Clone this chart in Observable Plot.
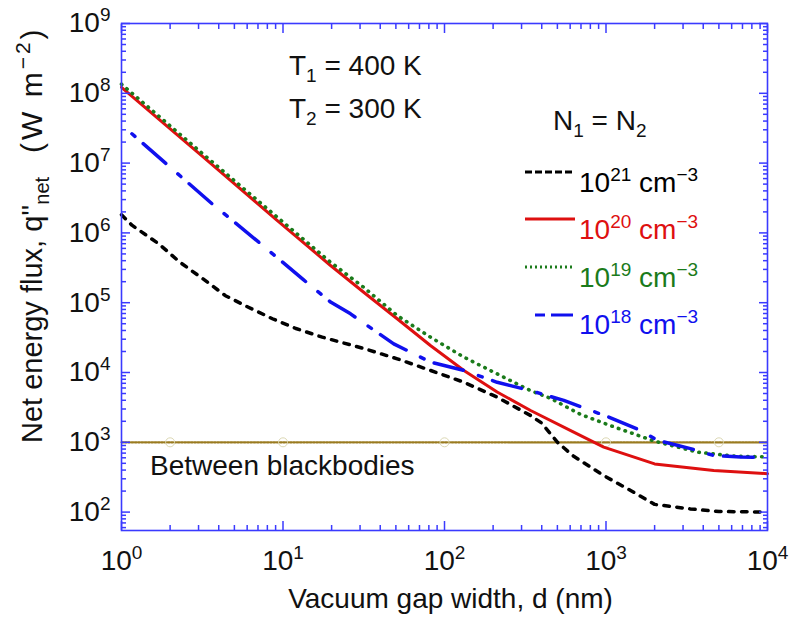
<!DOCTYPE html>
<html><head><meta charset="utf-8">
<script src="https://cdn.jsdelivr.net/npm/d3@7"></script>
<script src="https://cdn.jsdelivr.net/npm/@observablehq/plot@0.6"></script>
<style>
body{margin:0;background:#fff;}
svg{font-family:"Liberation Sans", Arial, Helvetica, sans-serif;}
</style>
</head><body><div id="chart"></div>
<script>
// ---- data ----
// N1 = N2 = 1e21 cm^-3 (black dashed)
const dN21 = [1, 1.16, 1.7, 2.3, 3.2, 4.4, 6.1, 8.6, 12, 17.5, 32, 51, 82, 132, 212, 341, 398, 501, 631, 968, 1420, 2000, 3330, 5000, 10000];
const qN21 = [1.82e6, 1.29e6, 6.98e5, 3.8e5, 2.19e5, 1.26e5, 8.61e4, 5.89e4, 4.27e4, 3.21e4, 2.19e4, 1.57e4, 1.07e4, 7244, 4426, 2421, 1900, 1000, 630, 334, 204, 129, 111, 102, 100];
// 1e20 (red solid)
const dN20 = [1, 3.16, 9.0, 19.7, 31.6, 50.9, 81.8, 131.8, 211.8, 341.2, 631, 968, 2000, 4645, 10000];
const qN20 = [1.22e8, 1.26e7, 1.58e6, 3.41e5, 1.41e5, 5.89e4, 2.44e4, 1.07e4, 5248, 2858, 1396, 851, 490, 394, 355];
// 1e19 (green dotted)
const dN19 = [1, 3.16, 9.0, 19.7, 31.6, 50.9, 81.8, 131.8, 211.8, 341.2, 452.9, 695, 1122, 1977, 3673, 6310, 10000];
const qN19 = [1.35e8, 1.38e7, 1.76e6, 3.8e5, 1.66e5, 6.56e4, 3.21e4, 1.66e4, 9550, 5495, 4266, 2512, 1660, 1047, 724, 631, 617];
// 1e18 (blue dash-dot)
const dN18 = [1.16, 3.64, 7.08, 13.2, 19.7, 26.2, 48.5, 81.8, 131.8, 211.8, 341.2, 548, 1016, 1637, 2075, 3334, 4645, 6808, 10000];
const qN18 = [2.63e7, 2.61e6, 7.36e5, 2.19e5, 1.02e5, 6.92e4, 2.57e4, 1.41e4, 1.07e4, 7244, 5495, 3981, 2344, 1479, 1072, 813, 646, 617, 603];
// between blackbodies
const dBB = [1, 10000];
const qBB = [1000, 1000];
const dBBmarks = [2, 10, 100, 1000, 5000];

const xDecades = [1, 10, 100, 1000, 10000];
const yDecades = [1e2, 1e3, 1e4, 1e5, 1e6, 1e7, 1e8, 1e9];
const xTitle = "Vacuum gap width, d (nm)";
const yTitleA = "Net energy flux, q''_{net}";
const yTitleB = "(W m^{\u22122})";
const tempLabels = ["T_{1} = 400 K", "T_{2} = 300 K"];
const legendTitle = "N_{1} = N_{2}";
const legendLabels = ["10^{21} cm^{\u22123}", "10^{20} cm^{\u22123}", "10^{19} cm^{\u22123}", "10^{18} cm^{\u22123}"];
const bbLabel = "Between blackbodies";

// ---- styles ----
const frameBlue = "#3a3aff";
const cBlack = "#000000", cRed = "#de1010", cGreen = "#1b7b1b", cBlue = "#1010ee", cBB = "#9a7b20";

const rows = (d, q) => d.map((v, i) => ({d: v, q: q[i]}));
const minorX = xDecades.slice(0, -1).flatMap(p => d3.range(2, 10).map(k => k * p));
const minorY = [10, 1e2, 1e3, 1e4, 1e5, 1e6, 1e7, 1e8].flatMap(p => d3.range(2, 10).map(k => k * p)).filter(v => v > 54.5 && v < 1e9);
const expo = v => `10^{${Math.round(Math.log10(v))}}`;

const tickAxes = (ticks, len) => [
  Plot.axisX({ticks, anchor: "bottom", tickSize: len, dy: -len, stroke: frameBlue, strokeWidth: 1.5, tickFormat: () => "", label: null}),
  Plot.axisX({ticks, anchor: "top", tickSize: len, dy: len, stroke: frameBlue, strokeWidth: 1.5, tickFormat: () => "", label: null})
];
const tickAxesY = (ticks, len) => [
  Plot.axisY({ticks, anchor: "left", tickSize: len, dx: len, stroke: frameBlue, strokeWidth: 1.5, tickFormat: () => "", label: null}),
  Plot.axisY({ticks, anchor: "right", tickSize: len, dx: -len, stroke: frameBlue, strokeWidth: 1.5, tickFormat: () => "", label: null})
];

const chart = Plot.plot({
  width: 790, height: 621,
  marginLeft: 121, marginRight: 23, marginTop: 23, marginBottom: 91,
  x: {type: "log", domain: [1, 1e4], axis: null},
  y: {type: "log", domain: [54.5, 1e9], axis: null},
  style: {background: "white", fontFamily: "Liberation Sans, Arial, sans-serif"},
  marks: [
    Plot.line(rows(dBB, qBB), {x: "d", y: "q", stroke: cBB, strokeWidth: 2.2, strokeDasharray: "2,1.3"}),
    Plot.dot(dBBmarks, {x: d => d, y: () => 1000, r: 4.5, stroke: "#dcd8b4", strokeWidth: 1, fill: "none"}),
    Plot.line(rows(dN21, qN21), {x: "d", y: "q", stroke: cBlack, strokeWidth: 3.5, strokeDasharray: "5.5,7.5", strokeLinecap: "round"}),
    Plot.line(rows(dN20, qN20), {x: "d", y: "q", stroke: cRed, strokeWidth: 3}),
    Plot.line(rows(dN19, qN19), {x: "d", y: "q", stroke: cGreen, strokeWidth: 3.6, strokeDasharray: "0.5,6.5", strokeLinecap: "round"}),
    Plot.line(rows(dN18, qN18), {x: "d", y: "q", stroke: cBlue, strokeWidth: 3.5, strokeDasharray: "4,11,30,16", strokeLinecap: "round"}),
    ...tickAxes(xDecades, 9), ...tickAxes(minorX, 5),
    ...tickAxesY(yDecades, 9), ...tickAxesY(minorY, 5),
    Plot.frame({stroke: frameBlue, strokeWidth: 1.6}),
    Plot.text(xDecades, {x: d => d, frameAnchor: "bottom", dy: 31, text: expo, fontSize: 28, textAnchor: "middle", lineAnchor: "middle", fill: "#111"}),
    Plot.text(yDecades, {y: d => d, frameAnchor: "left", dx: -11, text: expo, fontSize: 28, textAnchor: "end", lineAnchor: "middle", fill: "#111"}),
    Plot.text([xTitle], {frameAnchor: "bottom", dx: 6, dy: 69, text: d => d, fontSize: 28, lineAnchor: "middle", fill: "#111"})
  ]
});
document.getElementById("chart").appendChild(chart);

// ---- rich text (super/subscripts) ----
function rich(sel, str, small, raise, drop) {
  const parts = str.split(/([\^_]\{[^}]*\})/);
  let shift = 0;
  sel.text("");
  for (const p of parts) {
    if (!p) continue;
    const m = p.match(/^([\^_])\{(.*)\}$/);
    if (m) {
      const target = m[1] === "^" ? -raise : drop;
      sel.append("tspan").attr("dy", target - shift).attr("font-size", small).text(m[2]);
      shift = target;
    } else {
      sel.append("tspan").attr("dy", -shift).text(p);
      shift = 0;
    }
  }
}
const svg = d3.select(chart);
svg.selectAll("text").each(function () {
  const s = this.textContent;
  if (s.includes("^{") || s.includes("_{")) rich(d3.select(this), s, 19, 11, 7);
});

// ---- annotations & legend ----
const g = svg.append("g").attr("font-size", 28).attr("fill", "#111").attr("text-anchor", "start");
const addText = (x, y, str, fill) => {
  const t = g.append("text").attr("x", x).attr("y", y).attr("fill", fill || "#111").attr("text-anchor", "start").style("white-space", "pre");
  rich(t, str, 19, 11, 7);
  return t;
};
addText(289, 75, tempLabels[0]);
addText(289, 118, tempLabels[1]);
addText(553, 130, legendTitle);
addText(150, 475, bbLabel);

const legendColors = [cBlack, cRed, cGreen, cBlue];
const legendDash = ["7,3", null, "2,3", "10,6,22"];
const legendLineY = [172, 219, 267, 315];
const legendTextY = [192, 239, 287, 334];
const legendX0 = [525, 525, 525, 535];
legendLabels.forEach((lab, i) => {
  const ln = g.append("line").attr("x1", legendX0[i]).attr("x2", 575)
    .attr("y1", legendLineY[i]).attr("y2", legendLineY[i])
    .attr("stroke", legendColors[i]).attr("stroke-width", i === 1 ? 3 : 2.8);
  if (legendDash[i]) ln.attr("stroke-dasharray", legendDash[i]);
  addText(579, legendTextY[i], lab, legendColors[i]);
});

// y title (rotated), two pieces
const yA = g.append("text").attr("transform", "translate(42,443) rotate(-90)").attr("text-anchor", "start").attr("font-size", 29).style("white-space", "pre");
rich(yA, yTitleA, 20, 11, 7);
const yB = g.append("text").attr("transform", "translate(42,153) rotate(-90)").attr("text-anchor", "start").attr("font-size", 30)
  .attr("letter-spacing", 3);
rich(yB, yTitleB, 21, 12, 7);
</script>
</body></html>
